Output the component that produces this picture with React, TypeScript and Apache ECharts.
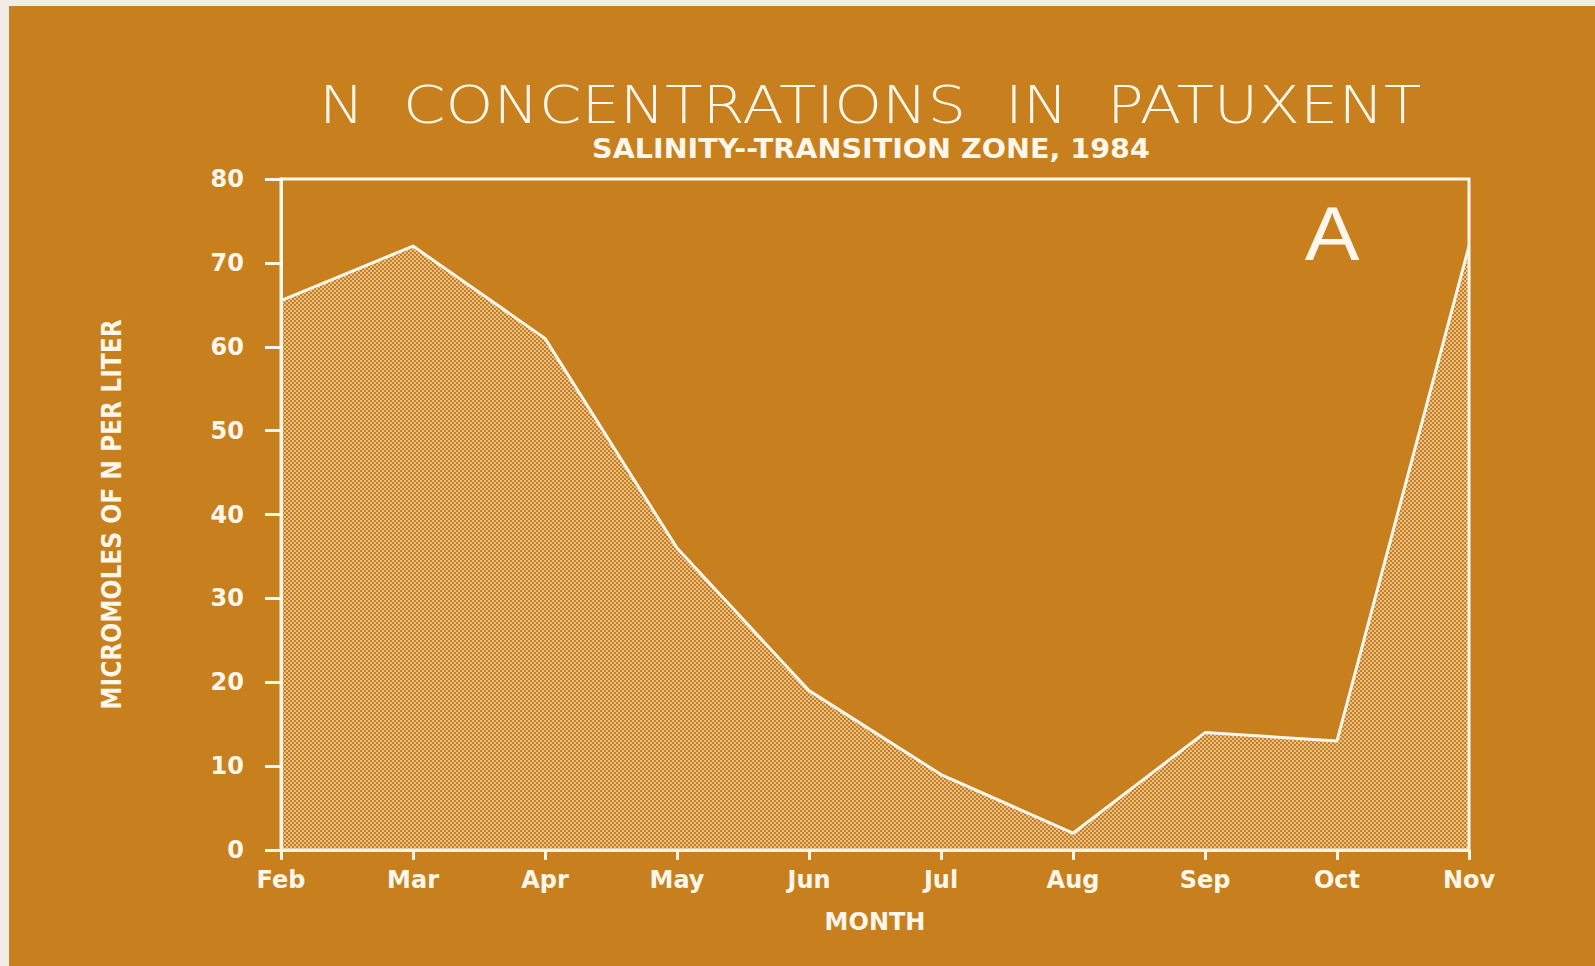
import React, { useEffect, useRef } from "react";
import * as echarts from "echarts";

const months = ["Feb", "Mar", "Apr", "May", "Jun", "Jul", "Aug", "Sep", "Oct", "Nov"];
const nValues = [65.5, 72, 61, 36, 19, 9, 2, 14, 13, 72];
const yTicks = { min: 0, max: 80, interval: 10 };
const titleText = "N  CONCENTRATIONS  IN  PATUXENT";
const subtitleText = "SALINITY--TRANSITION ZONE, 1984";
const yName = "MICROMOLES OF N PER LITER";
const xName = "MONTH";
const panelLabel = "A";

const W = 1595;
const H = 966;
const ORANGE = "#C7801D";
const WHITE = "#FFF6EC";

function makeDotTile(): string {
  const c = document.createElement("canvas");
  c.width = 4;
  c.height = 4;
  const ctx = c.getContext("2d")!;
  ctx.clearRect(0, 0, 4, 4);
  ctx.fillStyle = "rgba(255,236,218,0.85)";
  ctx.beginPath();
  ctx.arc(1, 1, 0.9, 0, Math.PI * 2);
  ctx.fill();
  ctx.beginPath();
  ctx.arc(3, 3, 0.9, 0, Math.PI * 2);
  ctx.fill();
  return c.toDataURL();
}

export default function App() {
  const ref = useRef<HTMLDivElement>(null);
  useEffect(() => {
    document.body.style.margin = "0";
    const chart = echarts.init(ref.current!, undefined, { renderer: "svg" });
    const tile = makeDotTile();
    const labelFont = { fontFamily: "DejaVu Sans", fontWeight: "bold" as const, color: WHITE };
    chart.setOption({
      animation: false,
      backgroundColor: "transparent",
      grid: {
        left: 281,
        right: W - 1469,
        top: 179,
        bottom: H - 850,
        show: true,
        borderColor: WHITE,
        borderWidth: 3,
        backgroundColor: "transparent",
      },
      xAxis: {
        type: "category",
        data: months,
        boundaryGap: false,
        name: xName,
        nameLocation: "middle",
        nameGap: 60,
        nameTextStyle: { ...labelFont, fontSize: 24 },
        axisLine: { lineStyle: { color: WHITE, width: 3 } },
        axisTick: { show: true, inside: false, length: 10, lineStyle: { color: WHITE, width: 3 } },
        axisLabel: { ...labelFont, fontSize: 24, margin: 18 },
        splitLine: { show: false },
      },
      yAxis: {
        type: "value",
        min: yTicks.min,
        max: yTicks.max,
        interval: yTicks.interval,
        name: yName,
        nameLocation: "middle",
        nameRotate: 90,
        nameGap: 156,
        nameTextStyle: { fontFamily: "DejaVu Sans Condensed", fontWeight: "bold", fontSize: 26, color: WHITE },
        axisLine: { show: true, lineStyle: { color: WHITE, width: 3 } },
        axisTick: { show: true, inside: false, length: 16, lineStyle: { color: WHITE, width: 3 } },
        axisLabel: { ...labelFont, fontSize: 24, margin: 37 },
        splitLine: { show: false },
      },
      series: [
        {
          type: "line",
          data: nValues,
          smooth: false,
          symbol: "none",
          lineStyle: { color: WHITE, width: 3, join: "round" },
          areaStyle: {
            origin: "start",
            opacity: 1,
            color: { image: tile, repeat: "repeat", imageWidth: 4, imageHeight: 4 } as any,
          },
        },
      ],
      graphic: [
        {
          type: "text",
          x: 870,
          y: 105,
          scaleX: 1.17,
          style: {
            text: titleText,
            fill: WHITE,
            font: "300 52px 'DejaVu Sans'",
            align: "center",
            verticalAlign: "middle",
          },
        },
        {
          type: "text",
          x: 871,
          y: 149,
          scaleX: 1.1,
          style: {
            text: subtitleText,
            fill: WHITE,
            font: "bold 26px 'DejaVu Sans'",
            align: "center",
            verticalAlign: "middle",
          },
        },
        {
          type: "text",
          x: 1332,
          y: 234,
          scaleX: 1.08,
          style: {
            text: panelLabel,
            fill: WHITE,
            font: "normal 76px 'Liberation Sans'",
            align: "center",
            verticalAlign: "middle",
          },
        },
      ],
    });
    return () => chart.dispose();
  }, []);
  return (
    <div style={{ position: "absolute", left: 0, top: 0, width: W, height: H, background: "#F2ECE6", overflow: "hidden" }}>
      <div style={{ position: "absolute", left: 9, top: 6, right: 0, bottom: 0, background: ORANGE }} />
      <div ref={ref} style={{ position: "absolute", left: 0, top: 0, width: W, height: H }} />
    </div>
  );
}
